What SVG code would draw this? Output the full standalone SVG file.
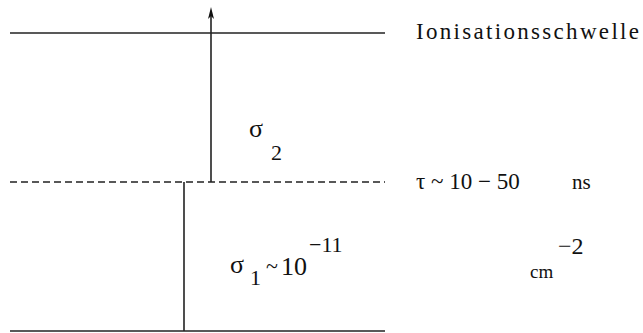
<svg xmlns="http://www.w3.org/2000/svg" width="643" height="333" viewBox="0 0 643 333">
<style>
.ln{stroke:#222;stroke-width:1.6;fill:none}
.t{font-family:"Liberation Serif","DejaVu Serif","Times New Roman",serif;fill:#111}
</style>
<rect width="643" height="333" fill="#fff"/>
<g id="levels">
<line id="level-ion" class="ln" x1="10" y1="33" x2="385" y2="33"/>
<line id="level-mid" class="ln" x1="10" y1="182" x2="385" y2="182" stroke-dasharray="7,4"/>
<line id="level-ground" class="ln" x1="10" y1="331" x2="385" y2="331"/>
</g>
<g id="connectors">
<line class="ln" x1="184" y1="331" x2="184" y2="182"/>
<line class="ln" x1="211" y1="182" x2="211" y2="14"/>
<path d="M211,7 L214,19 L211,16 L208,19 Z" fill="#111"/>
</g>
<g id="labels">
<text class="t" x="416" y="39" font-size="23" textLength="223" lengthAdjust="spacing">Ionisationsschwelle</text>
<text class="t" x="249" y="137" font-size="26">σ</text>
<text class="t" x="271" y="160" font-size="22">2</text>
<text class="t" x="416" y="189" font-size="23">τ ~ 10 − 50</text>
<text class="t" x="572" y="189" font-size="21">ns</text>
<text class="t" x="230" y="273" font-size="26">σ</text>
<text class="t" x="250" y="285" font-size="22">1</text>
<text class="t" x="266" y="273" font-size="22">~</text>
<text class="t" x="281" y="275" font-size="26">10</text>
<text class="t" x="309" y="252" font-size="22">−11</text>
<text class="t" x="530" y="278" font-size="19">cm</text>
<text class="t" x="558" y="254" font-size="24">−2</text>
</g>
</svg>
